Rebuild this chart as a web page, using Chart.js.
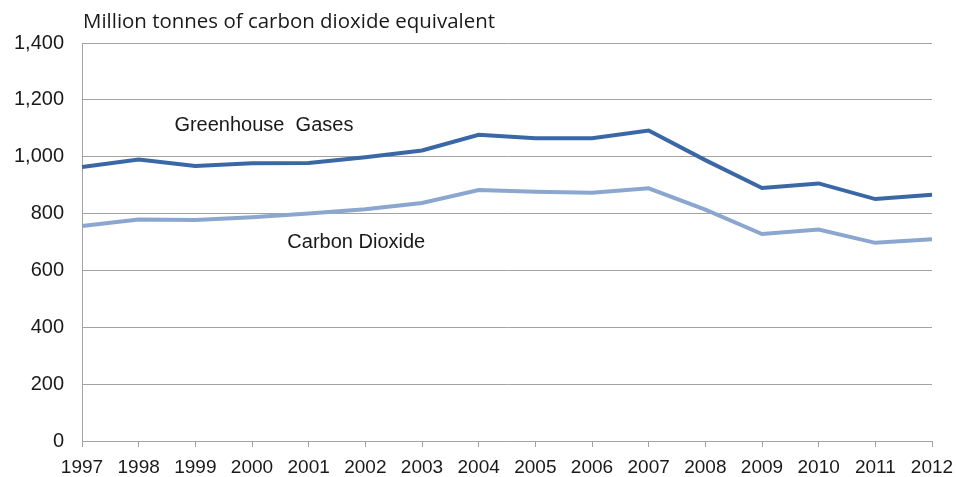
<!DOCTYPE html>
<html>
<head>
<meta charset="utf-8">
<script src="https://cdn.jsdelivr.net/npm/chart.js@4.4.1/dist/chart.umd.min.js"></script>
<style>
  html, body { margin: 0; padding: 0; background: #fff; }
  #wrap { width: 956px; height: 477px; position: relative; }
</style>
</head>
<body>
<div id="wrap"><canvas id="emissions"></canvas></div>
<script>
// UK emissions, million tonnes CO2 equivalent
const years = ['1997','1998','1999','2000','2001','2002','2003','2004','2005','2006','2007','2008','2009','2010','2011','2012'];
const greenhouseGases = [964, 990, 967, 977, 978, 998, 1022, 1077, 1065, 1065, 1092, 988, 890, 906, 851, 866];
const carbonDioxide = [756, 779, 777, 787, 800, 815, 837, 883, 877, 873, 889, 814, 728, 744, 697, 710];
const yTicks = [0, 200, 400, 600, 800, 1000, 1200, 1400];

const unitLabel = 'Million tonnes of carbon dioxide equivalent';
// series names written inside the plot, anchored in data space
const seriesNotes = [
  { text: 'Greenhouse  Gases', x: 3.21, y: 1111 },
  { text: 'Carbon Dioxide', x: 4.84, y: 700 }
];

const gridGrey = '#a3a3a3';
const textColour = '#1a1a1a';

const labelsPlugin = {
  id: 'labelsPlugin',
  afterDraw(chart) {
    const ctx = chart.ctx;
    const xs = chart.scales.x, ys = chart.scales.y;
    ctx.save();
    ctx.fillStyle = textColour;
    ctx.font = '20px "Open Sans", sans-serif';
    ctx.textBaseline = 'middle';
    ctx.textAlign = 'left';
    // squeeze the unit label to its usual width
    const w = ctx.measureText(unitLabel).width;
    ctx.translate(83, 22);
    ctx.scale(412 / w, 1);
    ctx.fillText(unitLabel, 0, 0);
    ctx.restore();

    ctx.save();
    ctx.fillStyle = textColour;
    ctx.font = '20px "Liberation Sans", Arial, sans-serif';
    ctx.textAlign = 'center';
    ctx.textBaseline = 'middle';
    seriesNotes.forEach(n => {
      ctx.fillText(n.text, xs.getPixelForValue(n.x), ys.getPixelForValue(n.y));
    });
    ctx.restore();
  }
};

const ctx = document.getElementById('emissions');
new Chart(ctx, {
  type: 'line',
  data: {
    labels: years,
    datasets: [{
      label: 'Greenhouse Gases',
      data: greenhouseGases,
      borderColor: '#3a67a6',
      borderWidth: 4,
      pointRadius: 0,
      tension: 0
    }, {
      label: 'Carbon Dioxide',
      data: carbonDioxide,
      borderColor: '#8ba7cf',
      borderWidth: 4,
      pointRadius: 0,
      tension: 0
    }]
  },
  options: {
    responsive: true,
    maintainAspectRatio: false,
    animation: false,
    layout: { padding: { top: 43, right: 24, left: 0, bottom: 0 } },
    plugins: {
      legend: { display: false },
      tooltip: { enabled: false }
    },
    scales: {
      x: {
        offset: false,
        grid: {
          drawOnChartArea: false,
          drawTicks: true,
          tickLength: 6,
          color: gridGrey
        },
        border: { color: gridGrey, width: 1 },
        ticks: {
          autoSkip: false,
          maxRotation: 0,
          padding: 9,
          color: textColour,
          font: { family: '"Liberation Sans", Arial, sans-serif', size: 19 }
        },
        afterFit(scale) {
          scale.height = 36;
          scale.paddingLeft = 0;
          scale.paddingRight = 0;
        }
      },
      y: {
        min: 0,
        max: 1400,
        afterBuildTicks(scale) { scale.ticks = yTicks.map(v => ({ value: v })); },
        grid: {
          color: gridGrey,
          drawTicks: false
        },
        border: { color: gridGrey, width: 1 },
        ticks: {
          padding: 18,
          color: textColour,
          font: { family: '"Liberation Sans", Arial, sans-serif', size: 20 },
          callback: v => v.toLocaleString('en-GB')
        },
        afterFit(scale) { scale.width = 82; }
      }
    }
  },
  plugins: [labelsPlugin]
});
</script>
</body>
</html>
